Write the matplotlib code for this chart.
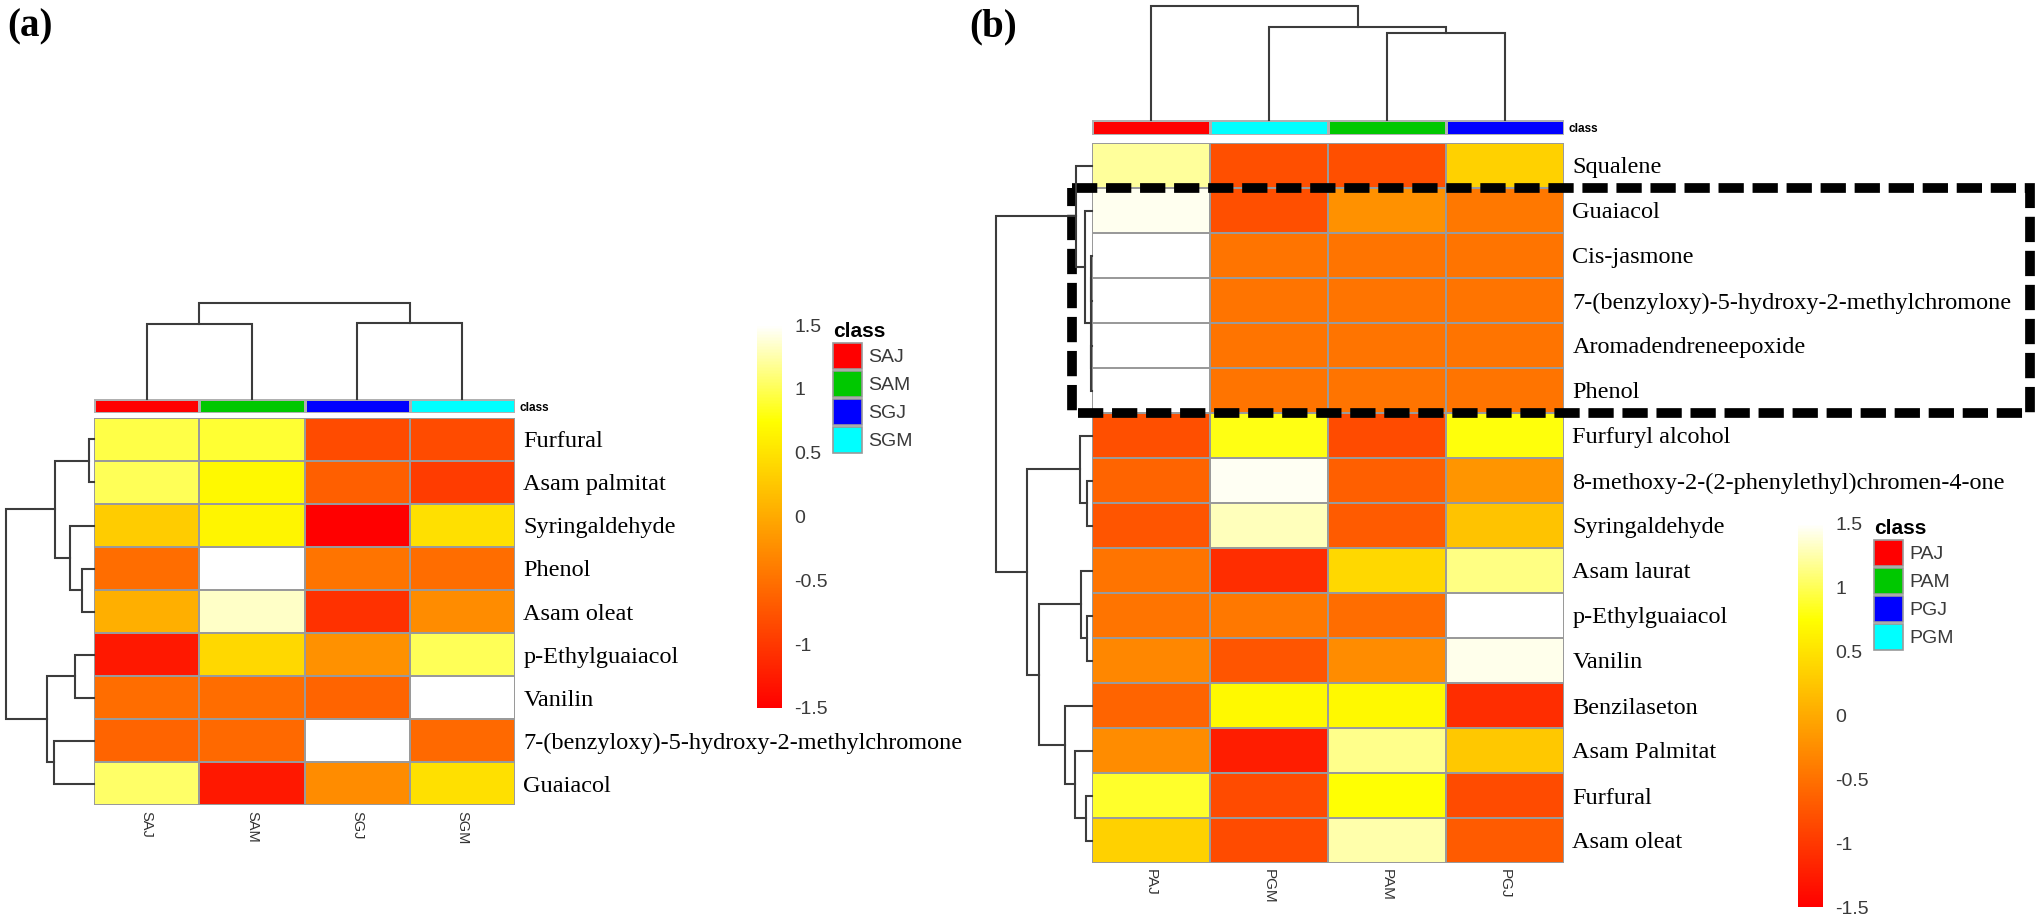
import numpy as np
import matplotlib
matplotlib.use("Agg")
import matplotlib.pyplot as plt
from matplotlib.colors import LinearSegmentedColormap, ListedColormap, Normalize
from matplotlib.patches import Patch, Rectangle
from matplotlib import transforms
import matplotlib.cm as cm

# ---- data: panel (a) ----
rows_a = ["Furfural", "Asam palmitat", "Syringaldehyde", "Phenol", "Asam oleat",
          "p-Ethylguaiacol", "Vanilin", "7-(benzyloxy)-5-hydroxy-2-methylchromone",
          "Guaiacol"]
cols_a = ["SAJ", "SAM", "SGJ", "SGM"]
vals_a = [
    [0.95, 0.90, -0.84, -0.84],
    [1.00, 0.70, -0.66, -0.97],
    [0.30, 0.66, -1.50, 0.48],
    [-0.53, 1.50, -0.48, -0.53],
    [0.04, 1.33, -1.06, -0.26],
    [-1.28, 0.40, -0.22, 1.00],
    [-0.53, -0.53, -0.62, 1.50],
    [-0.62, -0.57, 1.50, -0.57],
    [1.05, -1.28, -0.26, 0.48],
]
legend_a = ["SAJ", "SAM", "SGJ", "SGM"]
# merges: (left, right, height); ids >= n refer to earlier merges
row_merges_a = [(0, 1, 5), (3, 4, 12), (2, 10, 24), (9, 11, 39),
                (5, 6, 19), (7, 8, 40), (13, 14, 47), (12, 15, 88)]
col_merges_a = [(0, 1, 75), (2, 3, 76), (4, 5, 96)]

# ---- data: panel (b) ----
rows_b = ["Squalene", "Guaiacol", "Cis-jasmone",
          "7-(benzyloxy)-5-hydroxy-2-methylchromone", "Aromadendreneepoxide",
          "Phenol", "Furfuryl alcohol", "8-methoxy-2-(2-phenylethyl)chromen-4-one",
          "Syringaldehyde", "Asam laurat", "p-Ethylguaiacol", "Vanilin",
          "Benzilaseton", "Asam Palmitat", "Furfural", "Asam oleat"]
cols_b = ["PAJ", "PGM", "PAM", "PGJ"]
vals_b = [
    [1.20, -0.80, -0.80, 0.35],
    [1.45, -0.80, -0.22, -0.44],
    [1.50, -0.48, -0.48, -0.48],
    [1.50, -0.48, -0.48, -0.48],
    [1.50, -0.48, -0.48, -0.48],
    [1.50, -0.48, -0.48, -0.48],
    [-0.80, 0.80, -0.84, 0.78],
    [-0.62, 1.46, -0.66, -0.18],
    [-0.75, 1.30, -0.70, 0.22],
    [-0.48, -1.10, 0.40, 1.13],
    [-0.48, -0.44, -0.53, 1.50],
    [-0.31, -0.75, -0.26, 1.43],
    [-0.62, 0.70, 0.70, -1.10],
    [-0.26, -1.24, 1.16, 0.26],
    [0.87, -0.84, 0.75, -0.84],
    [0.35, -0.84, 1.25, -0.70],
]
legend_b = ["PAJ", "PAM", "PGJ", "PGM"]
row_merges_b = [(2, 3, 0.6), (4, 5, 0.6), (16, 17, 1.0), (1, 18, 7), (0, 19, 16),
                (7, 8, 5), (6, 21, 12), (10, 11, 5), (9, 23, 11),
                (14, 15, 6), (13, 25, 17), (12, 26, 27), (24, 27, 54),
                (22, 28, 66), (20, 29, 98)]
col_merges_b = [(2, 3, 86), (1, 4, 92), (0, 5, 113)]
boxed_rows = (1, 6)

class_colors = {"SAJ": "#FF0000", "SAM": "#00C800", "SGJ": "#0000FF", "SGM": "#00FFFF",
                "PAJ": "#FF0000", "PAM": "#00C800", "PGJ": "#0000FF", "PGM": "#00FFFF"}

# R heat.colors style: red -> yellow -> white
cmap = LinearSegmentedColormap.from_list(
    "heat", [(0.0, "#FF0000"), (0.75, "#FFFF00"), (1.0, "#FFFFFF")])
norm = Normalize(-1.5, 1.5)

SERIF = ["Liberation Serif", "DejaVu Serif"]
SANS = ["Liberation Sans", "DejaVu Sans"]
plt.rcParams["font.family"] = SANS

W, H = 2038, 919
fig = plt.figure(figsize=(W / 100, H / 100), dpi=100)


def box(x0, y0, x1, y1):
    return [x0 / W, 1 - y1 / H, (x1 - x0) / W, (y1 - y0) / H]


def draw_dendro(ax, merges, n, side):
    pos = {i: i + 0.5 for i in range(n)}
    hgt = {i: 0.0 for i in range(n)}
    for k, (a, b, h) in enumerate(merges):
        pa, pb, ha, hb = pos[a], pos[b], hgt[a], hgt[b]
        if side == "top":
            ax.plot([pa, pa, pb, pb], [ha, h, h, hb], color="#3c3c3c", lw=1.5,
                    clip_on=False, solid_joinstyle="miter")
        else:
            ax.plot([ha, h, h, hb], [pa, pa, pb, pb], color="#3c3c3c", lw=1.5,
                    clip_on=False, solid_joinstyle="miter")
        pos[n + k] = (pa + pb) / 2
        hgt[n + k] = h
    hmax = max(m[2] for m in merges)
    if side == "top":
        ax.set_xlim(0, n)
        ax.set_ylim(0, hmax * 1.05)
    else:
        ax.set_ylim(n, 0)
        ax.set_xlim(hmax * 1.05, 0)
    ax.axis("off")


def panel(hm, cbar_box, bar_box, cd_box, rd_box, rows, cols, vals, legend_names,
          row_merges, col_merges, leg_xy, col_fs):
    data = np.array(vals)
    ax = fig.add_axes(box(*hm))
    ax.pcolormesh(data, cmap=cmap, norm=norm, edgecolors="#9a9a9a", linewidth=1.1)
    ax.set_xlim(0, len(cols))
    ax.set_ylim(len(rows), 0)
    ax.yaxis.tick_right()
    ax.set_yticks(np.arange(len(rows)) + 0.5, rows, fontfamily=SERIF, fontsize=17.5)
    ax.set_xticks(np.arange(len(cols)) + 0.5, cols, rotation=270, fontsize=col_fs,
                  color="#333333")
    ax.tick_params(length=0)
    ax.tick_params(axis="y", pad=6)
    ax.tick_params(axis="x", pad=4)
    for s in ax.spines.values():
        s.set_visible(False)

    # class annotation bar
    bx = fig.add_axes(box(*bar_box))
    bar_cmap = ListedColormap([class_colors[c] for c in cols])
    bx.pcolormesh(np.arange(len(cols))[None, :], cmap=bar_cmap, vmin=-0.5,
                  vmax=len(cols) - 0.5, edgecolors="#b0b0b0", linewidth=0.8)
    bx.set_xlim(0, len(cols))
    bx.set_ylim(1, 0)
    bx.set_xticks([])
    bx.yaxis.tick_right()
    bx.set_yticks([0.5], ["class"], fontsize=8.5, fontweight="bold")
    bx.tick_params(length=0, pad=3)
    for s in bx.spines.values():
        s.set_visible(False)

    draw_dendro(fig.add_axes(box(*cd_box)), col_merges, len(cols), "top")
    draw_dendro(fig.add_axes(box(*rd_box)), row_merges, len(rows), "left")

    cax = fig.add_axes(box(*cbar_box))
    cb = fig.colorbar(cm.ScalarMappable(norm=norm, cmap=cmap), cax=cax)
    ticks = [-1.5, -1, -0.5, 0, 0.5, 1, 1.5]
    cb.set_ticks(ticks, labels=[f"{t:g}" for t in ticks])
    cb.outline.set_visible(False)
    cax.tick_params(length=0, pad=9, labelsize=14, labelcolor="#3a3a3a")

    handles = [Patch(facecolor=class_colors[c], edgecolor="#999999", linewidth=1.2,
                     label=c) for c in legend_names]
    leg = fig.legend(handles=handles, title="class", loc="upper left",
                     bbox_to_anchor=(leg_xy[0] / W, 1 - leg_xy[1] / H),
                     frameon=False, fontsize=14, borderpad=0, borderaxespad=0,
                     handlelength=1.5, handleheight=1.68, labelspacing=0.1,
                     handletextpad=0.3, alignment="left",
                     title_fontproperties={"weight": "bold", "size": 15})
    for t in leg.get_texts():
        t.set_color("#3a3a3a")
    return ax


# panel (a)
panel(hm=(94, 418, 515, 805), cbar_box=(757, 325, 782, 708), bar_box=(94, 399, 515, 413),
      cd_box=(94, 298, 515, 399), rd_box=(2, 418, 94, 805), rows=rows_a, cols=cols_a,
      vals=vals_a, legend_names=legend_a, row_merges=row_merges_a,
      col_merges=col_merges_a, leg_xy=(833, 322), col_fs=10.5)

# panel (b)
ax_b = panel(hm=(1092, 143, 1564, 863), cbar_box=(1798, 523, 1823, 907),
             bar_box=(1092, 120, 1564, 135), cd_box=(1092, 0, 1564, 120),
             rd_box=(991, 143, 1092, 863), rows=rows_b, cols=cols_b, vals=vals_b,
             legend_names=legend_b, row_merges=row_merges_b, col_merges=col_merges_b,
             leg_xy=(1874, 519), col_fs=11)

# dashed highlight box around the rows of cluster
trans = transforms.blended_transform_factory(ax_b.transAxes, ax_b.transData)
ax_b.add_patch(Rectangle((-0.042, boxed_rows[0]), 2.03, boxed_rows[1] - boxed_rows[0],
                         transform=trans, fill=False, edgecolor="black", linewidth=7,
                         linestyle=(0, (2.6, 0.9)), clip_on=False, zorder=5))

fig.text(7 / W, 1 - 8 / H, "(a)", fontfamily=SERIF, fontsize=28, fontweight="bold",
         va="top", ha="left")
fig.text(969 / W, 1 - 8 / H, "(b)", fontfamily=SERIF, fontsize=28, fontweight="bold",
         va="top", ha="left")

fig.savefig("out.png", dpi=100, facecolor="white")
